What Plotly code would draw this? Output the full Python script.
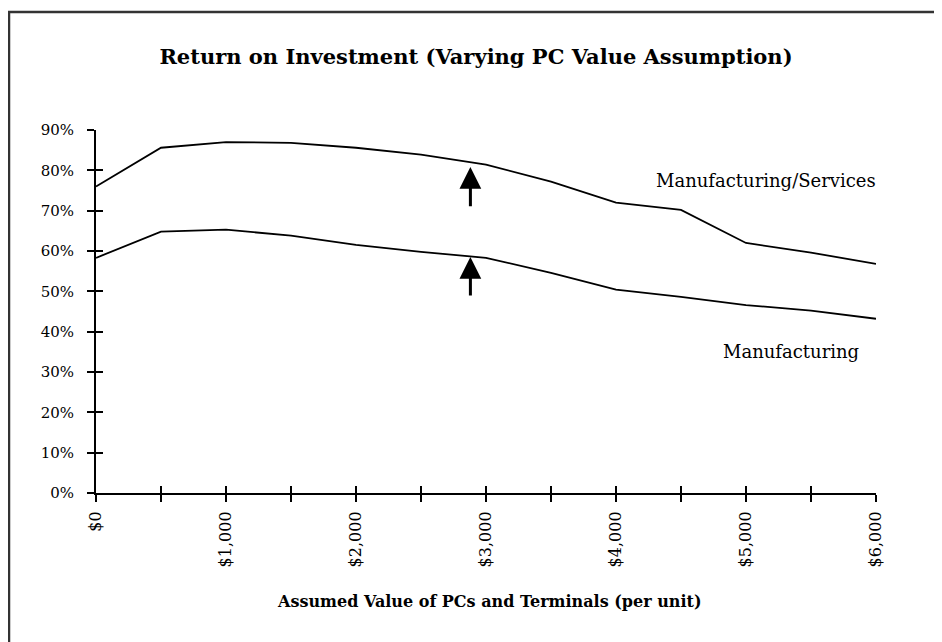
import plotly.graph_objects as go

# Data
pc_value = [0, 500, 1000, 1500, 2000, 2500, 3000, 3500, 4000, 4500, 5000, 5500, 6000]
mfg_services = [76.0, 85.6, 87.0, 86.8, 85.6, 83.9, 81.4, 77.2, 72.0, 70.2, 62.0, 59.6, 56.8]
manufacturing = [58.3, 64.8, 65.3, 63.8, 61.5, 59.8, 58.3, 54.6, 50.4, 48.6, 46.6, 45.2, 43.2]

x_tickvals = [0, 1000, 2000, 3000, 4000, 5000, 6000]
x_ticktext = ["$0", "$1,000", "$2,000", "$3,000", "$4,000", "$5,000", "$6,000"]
y_tickvals = [0, 10, 20, 30, 40, 50, 60, 70, 80, 90]
y_ticktext = ["0%", "10%", "20%", "30%", "40%", "50%", "60%", "70%", "80%", "90%"]

arrow_x = 2880
arrow_tops = [80.8, 58.5]
arrow_tails = [70.7, 48.6]

title_text = "Return on Investment (Varying PC Value Assumption)"
xtitle_text = "Assumed Value of PCs and Terminals (per unit)"
series_names = ["Manufacturing/Services", "Manufacturing"]
label_pos = [(5154, 77.6), (5346, 35.0)]

FONT = "DejaVu Serif"

# page has an 8px body margin; figure coordinates are offset by it
L, T = 88, 122
PW, PH = 780, 363

fig = go.Figure()
for name, vals in zip(series_names, [mfg_services, manufacturing]):
    fig.add_trace(go.Scatter(x=pc_value, y=vals, mode="lines", name=name,
                             line=dict(color="black", width=1.8), showlegend=False))

fig.add_trace(go.Scatter(x=[0], y=[0], xaxis="x2", yaxis="y2", mode="markers",
                         marker=dict(opacity=0), showlegend=False, hoverinfo="skip"))

axis_common = dict(showgrid=False, zeroline=False, showline=True, linecolor="black", linewidth=2,
                   tickcolor="black", tickwidth=2, ticklen=7)

fig.update_layout(
    width=942, height=642,
    margin=dict(l=L, r=942 - L - PW, t=T, b=642 - T - PH),
    plot_bgcolor="white", paper_bgcolor="white",
    font=dict(family=FONT, color="black", size=15),
    xaxis=dict(range=[0, 6000], tickmode="array", tickvals=pc_value,
               ticktext=[x_ticktext[x_tickvals.index(v)] if v in x_tickvals else "" for v in pc_value],
               ticks="outside", tickangle=-90, ticklabelstandoff=3,
               tickfont=dict(family=FONT, size=16), **axis_common),
    yaxis=dict(range=[0, 90], tickmode="array", tickvals=y_tickvals, ticktext=y_ticktext,
               ticks="outside", ticklabelstandoff=10,
               tickfont=dict(family=FONT, size=15), **axis_common),
    xaxis2=dict(range=[0, 6000], overlaying="x", anchor="y2", side="bottom", tickmode="array",
                tickvals=pc_value, showticklabels=False, ticks="inside", showgrid=False,
                zeroline=False, showline=False, tickcolor="black", tickwidth=2, ticklen=7),
    yaxis2=dict(range=[0, 90], overlaying="y", anchor="x2", side="left", tickmode="array",
                tickvals=y_tickvals, showticklabels=False, ticks="inside", showgrid=False,
                zeroline=False, showline=False, tickcolor="black", tickwidth=2, ticklen=7),
    title=dict(text="<b>" + title_text + "</b>", x=(476 - 8) / 942, xanchor="center",
               y=1 - (57 - 8) / 642, yanchor="middle",
               yref="container", font=dict(family=FONT, size=21, color="black")),
)

annotations = []
for (lx, ly), name in zip(label_pos, series_names):
    annotations.append(dict(x=lx, y=ly, xref="x", yref="y", text=name, showarrow=False,
                            font=dict(family=FONT, size=18, color="black")))
for top, tail in zip(arrow_tops, arrow_tails):
    annotations.append(dict(x=arrow_x, y=top, ax=arrow_x, ay=tail, xref="x", yref="y",
                            axref="x", ayref="y", text="", showarrow=True, arrowhead=2,
                            arrowsize=1.45, arrowwidth=3, arrowcolor="black"))
annotations.append(dict(x=0.505, y=(485 - 593) / PH, xref="paper", yref="paper",
                        text="<b>" + xtitle_text + "</b>",
                        showarrow=False, yanchor="middle",
                        font=dict(family=FONT, size=16, color="black")))
fig.update_layout(annotations=annotations)

# outer frame
fig.add_shape(type="rect", xref="paper", yref="paper", x0=(1 - L) / PW, x1=1.2,
              y0=-1.0, y1=(T + PH - 4) / PH, line=dict(color="#333333", width=2.5), layer="below")

fig.write_html("out.html")
